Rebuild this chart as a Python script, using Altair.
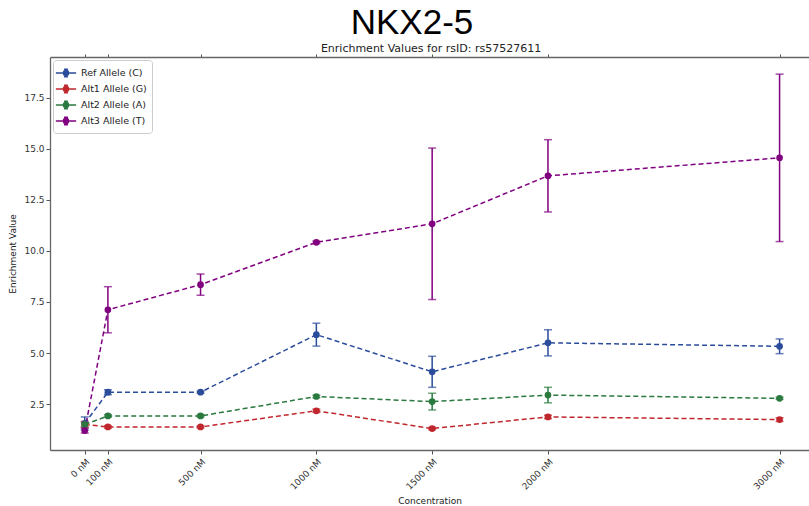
import altair as alt
import pandas as pd

# Concentrations (nM) and the tick labels shown under them
conc = [0, 100, 500, 1000, 1500, 2000, 3000]
conc_labels = ["0 nM", "100 nM", "500 nM", "1000 nM", "1500 nM", "2000 nM", "3000 nM"]

series = ["Ref Allele (C)", "Alt1 Allele (G)", "Alt2 Allele (A)", "Alt3 Allele (T)"]
colors = ["#2b4c9b", "#c0272d", "#2a7a3f", "#800080"]

# Mean enrichment and error per concentration
ref_mean = [1.55, 3.08, 3.08, 5.90, 4.08, 5.50, 5.33]
ref_err = [0.32, 0.12, 0.05, 0.56, 0.76, 0.64, 0.36]
alt1_mean = [1.50, 1.38, 1.38, 2.17, 1.30, 1.87, 1.74]
alt1_err = [0.15, 0.06, 0.05, 0.08, 0.06, 0.08, 0.09]
alt2_mean = [1.50, 1.92, 1.92, 2.87, 2.62, 2.94, 2.78]
alt2_err = [0.10, 0.06, 0.05, 0.06, 0.41, 0.38, 0.05]
alt3_mean = [1.20, 7.12, 8.35, 10.42, 11.33, 13.68, 14.56]
alt3_err = [0.12, 1.13, 0.52, 0.06, 3.71, 1.77, 4.10]

means = [ref_mean, alt1_mean, alt2_mean, alt3_mean]
errs = [ref_err, alt1_err, alt2_err, alt3_err]

rows = []
for name, m_list, e_list in zip(series, means, errs):
    for c, m, e in zip(conc, m_list, e_list):
        rows.append({"series": name, "conc": c, "mean": m, "lo": m - e, "hi": m + e})
df = pd.DataFrame(rows)

label_map = "{" + ", ".join(f"'{c}': '{l}'" for c, l in zip(conc, conc_labels)) + "}"

# The x range runs past the right edge of the canvas, so no right frame is drawn
x_scale = alt.Scale(domain=[-150, 3127], nice=False, zero=False)
y_scale = alt.Scale(domain=[0.25, 19.5], nice=False, zero=False)

color = alt.Color(
    "series:N",
    scale=alt.Scale(domain=series, range=colors),
    sort=series,
    legend=alt.Legend(title=None),
)

x_main = alt.X(
    "conc:Q",
    scale=x_scale,
    title="Concentration",
    axis=alt.Axis(orient="bottom", values=conc, labelExpr=f"{label_map}[datum.value]",
                  labelAngle=-45, labelAlign="right", labelBaseline="top",
                  labelOverlap=False, labelBound=False, labelPadding=3,
                  titlePadding=5),
)
x_plain = alt.X("conc:Q", scale=x_scale, axis=None)
y_main = alt.Y(
    "mean:Q",
    scale=y_scale,
    title="Enrichment Value",
    axis=alt.Axis(values=[2.5, 5.0, 7.5, 10.0, 12.5, 15.0, 17.5], format=".1f",
                  labelOverlap=False, titlePadding=6),
)

base = alt.Chart(df)

lines = base.mark_line(strokeDash=[5, 3], strokeWidth=1.5).encode(
    x=x_main, y=y_main, color=color, detail="series:N"
)
points = base.mark_point(filled=True, size=45, opacity=1).encode(
    x=x_plain, y=alt.Y("mean:Q", scale=y_scale), color=color
)
whiskers = base.mark_rule(strokeWidth=1.5).encode(
    x=x_plain, y=alt.Y("lo:Q", scale=y_scale), y2="hi:Q", color=color
)
caps_lo = base.mark_tick(orient="horizontal", size=8, thickness=1.5).encode(
    x=x_plain, y=alt.Y("lo:Q", scale=y_scale), color=color
)
caps_hi = base.mark_tick(orient="horizontal", size=8, thickness=1.5).encode(
    x=x_plain, y=alt.Y("hi:Q", scale=y_scale), color=color
)

# Top frame line with small tick marks
top_ticks = base.mark_point(opacity=0).encode(
    x=alt.X("conc:Q", scale=x_scale,
            axis=alt.Axis(orient="top", values=conc, labels=False, title=None,
                          domain=True, tickSize=3)),
    y=alt.Y("mean:Q", scale=y_scale),
)

headings = pd.DataFrame({
    "t": ["NKX2-5", "Enrichment Values for rsID: rs57527611"],
})
headline = alt.Chart(headings.iloc[[0]]).mark_text(
    font="Liberation Sans", fontSize=35, align="center", baseline="middle", color="black"
).encode(x=alt.value(362), y=alt.value(-34), text="t:N")
subhead = alt.Chart(headings.iloc[[1]]).mark_text(
    font="DejaVu Sans", fontSize=11, align="center", baseline="middle", color="#222"
).encode(x=alt.value(381), y=alt.value(-8), text="t:N")

chart = (
    alt.layer(whiskers, caps_lo, caps_hi, lines, points, top_ticks, headline, subhead)
    .resolve_axis(x="independent")
    .properties(
        width=759,
        height=393,
        padding={"left": 50, "top": 57, "right": 0, "bottom": 56},
        autosize=alt.AutoSizeParams(type="none"),
    )
    .configure_view(strokeWidth=0)
    .configure_axis(
        grid=False,
        labelFont="DejaVu Sans", labelFontSize=9, labelColor="#333",
        titleFont="DejaVu Sans", titleFontSize=9, titleFontWeight="normal", titleColor="#222",
        tickColor="#555", tickSize=4, domainColor="#666", domainWidth=1.3,
    )
    .configure_legend(
        orient="top-left", offset=3, padding=5,
        strokeColor="#cccccc", fillColor="white", cornerRadius=3,
        labelFont="DejaVu Sans", labelFontSize=9.5, labelColor="#222", labelOffset=7,
        symbolType="M-1.45,0L-0.4,0M0.4,0L1.45,0M0,-0.55L0,0.55M-0.28,-0.55L0.28,-0.55M-0.28,0.55L0.28,0.55M-0.36,0A0.36,0.36 0 1,1 0.36,0A0.36,0.36 0 1,1 -0.36,0Z",
        symbolSize=196, symbolStrokeWidth=1.5, symbolOpacity=1, rowPadding=1,
    )
)

chart.save("out.html", embed_options={"renderer": "svg", "actions": False})
